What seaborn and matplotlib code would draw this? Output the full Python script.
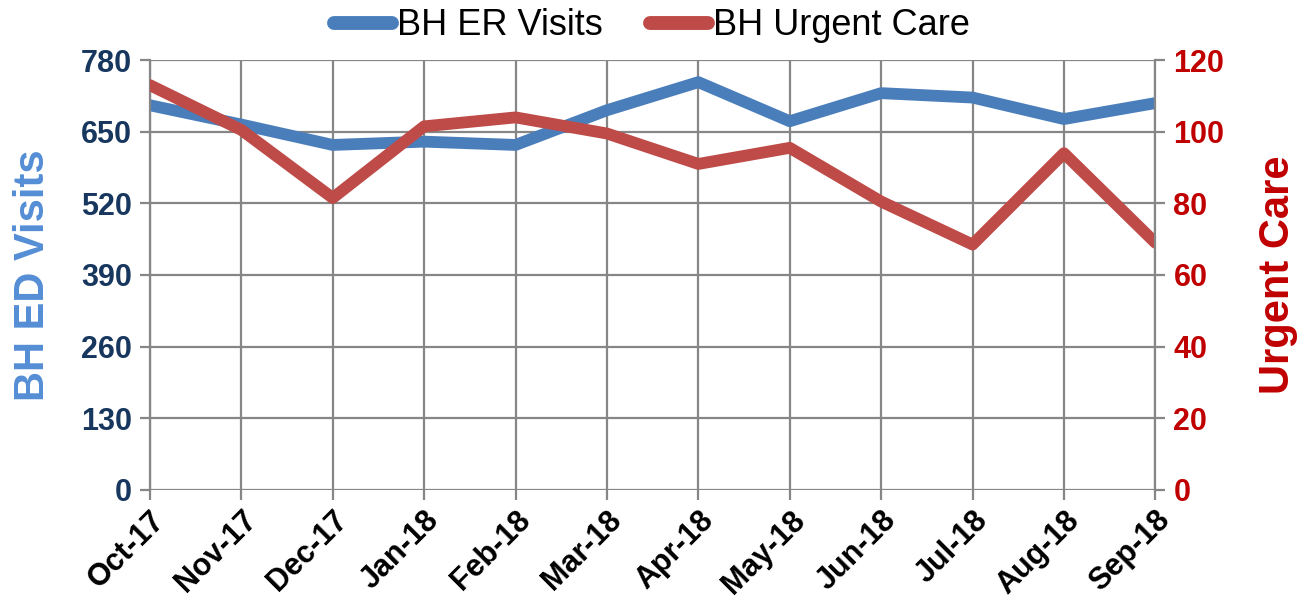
import pandas as pd
import seaborn as sns
import matplotlib.pyplot as plt
from matplotlib.lines import Line2D

months = ["Oct-17", "Nov-17", "Dec-17", "Jan-18", "Feb-18", "Mar-18",
          "Apr-18", "May-18", "Jun-18", "Jul-18", "Aug-18", "Sep-18"]
er_visits = [698, 663, 626, 632, 626, 689, 740, 669, 720, 712, 673, 702]
urgent_care = [113, 100.5, 81.5, 101.5, 104, 99.5, 91, 95.5, 80.5, 68.5, 94, 69]
left_ticks = [0, 130, 260, 390, 520, 650, 780]
right_ticks = [0, 20, 40, 60, 80, 100, 120]

df = pd.DataFrame({"month": months, "er": er_visits, "uc": urgent_care})

sns.set_style("white")
plt.rcParams['font.family'] = ['Liberation Sans', 'DejaVu Sans']

blue = "#4A7EBB"
red = "#BE4B48"
grid = "#868686"

fig, ax = plt.subplots(figsize=(13.04, 6.07), dpi=100)
fig.subplots_adjust(left=0.115, right=0.886, top=0.901, bottom=0.193)
ax2 = ax.twinx()

sns.lineplot(data=df, x="month", y="er", ax=ax, color=blue, linewidth=8.5,
             solid_joinstyle='round', sort=False)
sns.lineplot(data=df, x="month", y="uc", ax=ax2, color=red, linewidth=8.5,
             solid_joinstyle='round', sort=False)

ax.set_xlim(0, len(months) - 1)
ax.set_ylim(0, 780)
ax2.set_ylim(0, 120)
ax.set_yticks(left_ticks)
ax2.set_yticks(right_ticks)

ax.grid(True, color=grid, linewidth=1.6)
ax.set_axisbelow(True)
for a in (ax, ax2):
    for s in a.spines.values():
        s.set_visible(False)
ax.spines['left'].set_visible(True)
ax.spines['left'].set_color(grid)
ax.spines['left'].set_linewidth(1.6)
ax2.spines['right'].set_visible(True)
ax2.spines['right'].set_color(grid)
ax2.spines['right'].set_linewidth(1.6)

ax.tick_params(axis='y', left=True, length=7, width=1.6, color=grid,
               labelsize=22, labelcolor="#17375E", pad=6)
ax.tick_params(axis='x', bottom=True, length=7, width=1.6, color=grid,
               labelsize=22, labelcolor="black", pad=4)
ax2.tick_params(axis='y', right=True, length=7, width=1.6, color=grid,
                labelsize=22, labelcolor="#C00000", pad=6)
for lab in ax.get_yticklabels() + ax.get_xticklabels() + ax2.get_yticklabels():
    lab.set_fontweight('bold')
for lab in ax.get_xticklabels():
    lab.set_rotation(45)
    lab.set_ha('right')
    lab.set_rotation_mode('anchor')

ax.set_xlabel("")
ax.set_ylabel("BH ED Visits", fontsize=30, fontweight='bold', color="#558ED5", labelpad=20)
ax2.set_ylabel("Urgent Care", fontsize=30, fontweight='bold', color="#C00000", labelpad=24)

handles = [Line2D([], [], color=blue, linewidth=10, solid_capstyle='round'),
           Line2D([], [], color=red, linewidth=10, solid_capstyle='round')]
fig.legend(handles, ["BH ER Visits", "BH Urgent Care"], loc='upper center',
           bbox_to_anchor=(0.5, 1.04), ncol=2, frameon=False, fontsize=26,
           labelcolor="black", handlelength=1.6, handletextpad=0.15,
           columnspacing=1.3)

plt.savefig('out.png', dpi=100)
